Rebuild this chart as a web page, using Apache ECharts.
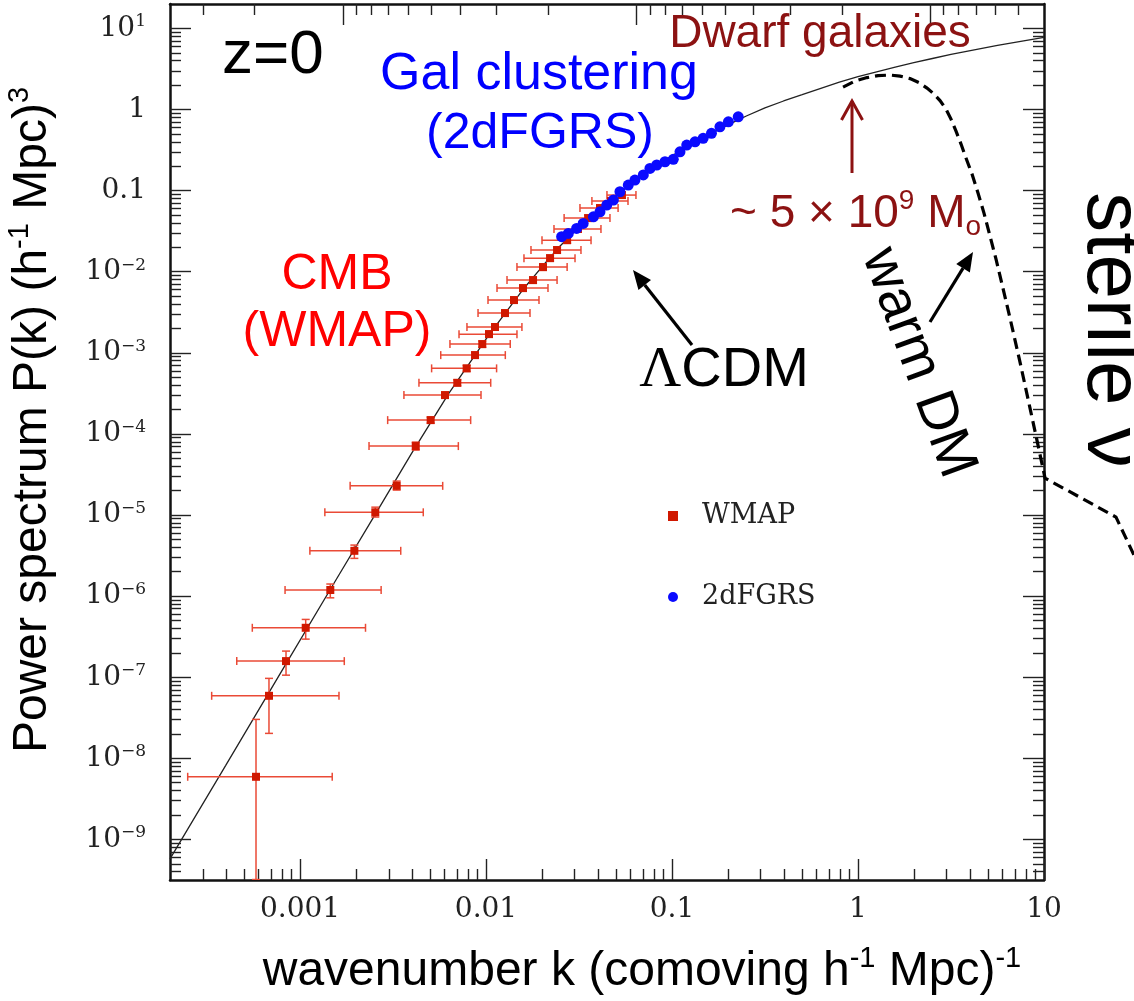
<!DOCTYPE html>
<html>
<head>
<meta charset="utf-8">
<script src="https://cdn.jsdelivr.net/npm/echarts@6/dist/echarts.min.js"></script>
<style>
html,body{margin:0;padding:0;background:#fff;}
#chart{width:1134px;height:1001px;}
</style>
</head>
<body>
<div id="chart"></div>
<script>
// ---------- data (k in h/Mpc, P in (Mpc/h)^3) ----------
// LambdaCDM model curve
const lcdmK = [2e-4, 3.98e-4, 7.94e-4, 1.58e-3, 2.51e-3, 3.98e-3, 6.31e-3, 0.01, 0.0126, 0.0158, 0.02, 0.0251, 0.0316, 0.0398, 0.0501, 0.0631, 0.0794, 0.1, 0.126, 0.158, 0.2, 0.251, 0.316, 0.398, 0.501, 0.631, 0.794, 1.0, 1.259, 1.585, 1.995, 2.512, 3.162, 4.217, 5.623, 7.499, 10];
const lcdmP = [5.75e-10, 8.13e-9, 1.17e-7, 1.66e-6, 9.77e-6, 5.75e-5, 3.16e-4, 1.48e-3, 3.02e-3, 6.03e-3, 1.15e-2, 2.09e-2, 3.55e-2, 5.62e-2, 8.71e-2, 0.129, 0.191, 0.269, 0.372, 0.49, 0.646, 0.832, 1.05, 1.274, 1.524, 1.828, 2.178, 2.541, 2.917, 3.327, 3.776, 4.256, 4.786, 5.433, 6.166, 6.918, 7.762];

// warm DM (sterile neutrino) sketch curve (runs past the right edge of the frame)
const wdmK = [0.831, 0.9636, 1.118, 1.281, 1.486, 1.682, 1.904, 2.128, 2.350, 2.563, 2.760, 2.972, 3.162, 3.365, 3.580, 3.807, 4.102, 4.418, 4.757, 5.126, 5.521, 5.945, 6.565, 7.430, 8.410, 9.284, 10.13, 24.38, 30.47];
const wdmP = [1.891, 2.242, 2.476, 2.620, 2.658, 2.584, 2.407, 2.148, 1.838, 1.550, 1.289, 1.012, 0.762, 0.542, 0.375, 0.252, 0.160, 0.0932, 0.0528, 0.0275, 0.0143, 7.04e-3, 2.68e-3, 7.69e-4, 2.08e-4, 7.28e-5, 2.85e-5, 9.43e-6, 3.20e-6];

// WMAP points with error bars
const wmapK   = [5.80e-4, 6.81e-4, 8.41e-4, 1.073e-3, 1.455e-3, 1.96e-3, 2.54e-3, 3.31e-3, 4.19e-3, 5.04e-3, 6.02e-3, 7.01e-3, 7.87e-3, 8.73e-3, 9.55e-3, 1.038e-2, 1.118e-2, 1.265e-2, 1.414e-2, 1.581e-2, 1.79e-2, 2.025e-2, 2.21e-2, 2.41e-2, 2.73e-2, 3.12e-2, 3.54e-2, 4.10e-2, 4.70e-2, 5.38e-2];
const wmapP   = [5.92e-9, 5.90e-8, 1.58e-7, 4.07e-7, 1.19e-6, 3.62e-6, 1.08e-5, 2.29e-5, 7.08e-5, 1.48e-4, 3.01e-4, 4.27e-4, 6.43e-4, 9.37e-4, 1.28e-3, 1.70e-3, 2.08e-3, 3.09e-3, 4.47e-3, 6.28e-3, 7.88e-3, 1.14e-2, 1.47e-2, 1.85e-2, 2.45e-2, 3.36e-2, 4.58e-2, 6.09e-2, 7.43e-2, 8.81e-2];
const wmapKLo = [2.49e-4, 3.35e-4, 4.57e-4, 5.54e-4, 8.31e-4, 1.13e-3, 1.36e-3, 1.86e-3, 2.35e-3, 2.96e-3, 3.62e-3, 4.36e-3, 5.10e-3, 5.71e-3, 6.40e-3, 7.16e-3, 7.90e-3, 9.06e-3, 1.025e-2, 1.146e-2, 1.297e-2, 1.467e-2, 1.60e-2, 1.745e-2, 2.00e-2, 2.32e-2, 2.63e-2, 3.20e-2, 3.71e-2, 4.47e-2];
const wmapKHi = [1.49e-3, 1.62e-3, 1.73e-3, 2.25e-3, 2.73e-3, 3.48e-3, 4.60e-3, 5.85e-3, 7.10e-3, 8.27e-3, 9.40e-3, 1.06e-2, 1.14e-2, 1.27e-2, 1.35e-2, 1.467e-2, 1.56e-2, 1.724e-2, 1.927e-2, 2.154e-2, 2.41e-2, 2.73e-2, 3.01e-2, 3.24e-2, 3.67e-2, 4.15e-2, 4.64e-2, 5.13e-2, 5.80e-2, 6.40e-2];
const wmapPLo = [3.2e-10, 2.03e-8, 1.06e-7, 2.95e-7, 9.53e-7, 2.92e-6, 9.44e-6, 2.03e-5, 6.32e-5, 1.36e-4, 2.77e-4, 3.92e-4, 5.9e-4, 8.6e-4, 1.17e-3, 1.56e-3, 1.90e-3, 2.83e-3, 4.10e-3, 5.75e-3, 7.22e-3, 1.04e-2, 1.35e-2, 1.70e-2, 2.24e-2, 3.07e-2, 4.19e-2, 5.57e-2, 6.80e-2, 8.06e-2];
const wmapPHi = [3.02e-8, 9.68e-8, 2.10e-7, 5.16e-7, 1.41e-6, 4.26e-6, 1.25e-5, 2.62e-5, 7.93e-5, 1.61e-4, 3.28e-4, 4.65e-4, 7.0e-4, 1.02e-3, 1.40e-3, 1.86e-3, 2.27e-3, 3.38e-3, 4.88e-3, 6.86e-3, 8.60e-3, 1.25e-2, 1.60e-2, 2.02e-2, 2.68e-2, 3.67e-2, 5.00e-2, 6.65e-2, 8.12e-2, 9.62e-2];

// 2dFGRS galaxy clustering points
const galK = [2.55e-2, 2.77e-2, 3.07e-2, 3.33e-2, 3.78e-2, 4.10e-2, 4.46e-2, 4.84e-2, 5.25e-2, 5.82e-2, 6.32e-2, 7.01e-2, 7.61e-2, 8.28e-2, 9.17e-2, 0.1016, 0.1104, 0.120, 0.133, 0.147, 0.163, 0.181, 0.201, 0.227];
const galP = [2.70e-2, 2.97e-2, 3.42e-2, 3.94e-2, 4.75e-2, 5.48e-2, 6.64e-2, 7.64e-2, 9.68e-2, 0.117, 0.135, 0.156, 0.188, 0.207, 0.227, 0.243, 0.301, 0.364, 0.400, 0.441, 0.508, 0.612, 0.706, 0.813];

// axes
const xRange = [2e-4, 10];
const yRange = [3.16e-10, 20];
const topRange = [0.41, 388];           // unlabeled top scale (reversed)
const xMajor = [0.001, 0.01, 0.1, 1, 10];
const xMajorLabels = ['0.001', '0.01', '0.1', '1', '10'];
const yMajor = [1e-9, 1e-8, 1e-7, 1e-6, 1e-5, 1e-4, 1e-3, 1e-2, 0.1, 1, 10];
const yMajorLabels = ['10^\u22129', '10^\u22128', '10^\u22127', '10^\u22126', '10^\u22125', '10^\u22124', '10^\u22123', '10^\u22122', '0.1', '1', '10^1'];
const topMajor = [1, 10, 100];
const minorMultipliers = [2, 3, 4, 5, 6, 7, 8, 9];

// ---------- helpers ----------
const L = Math.log10;
const sans = '"Liberation Sans", Arial, sans-serif';
const serif = '"DejaVu Serif", serif';
function minorTicks(range) {
  const lo = L(range[0]), hi = L(range[1]), out = [];
  for (let e = Math.floor(lo); e <= Math.ceil(hi); e++) {
    for (const m of minorMultipliers) {
      const v = e + L(m);
      if (v > lo + 1e-9 && v < hi - 1e-9) out.push(v);
    }
  }
  return out;
}
function nearest(arr, v) {
  let bi = 0, bd = Infinity;
  arr.forEach((a, i) => { const d = Math.abs(L(a) - v); if (d < bd) { bd = d; bi = i; } });
  return bi;
}
const tickStyle = {color: '#222', width: 1.4};
const lineStyleAx = {color: '#111', width: 2.5};
function axisBase(range, position, extra) {
  return Object.assign({
    type: 'value', min: L(range[0]), max: L(range[1]), position: position,
    splitLine: {show: false}, axisLabel: {show: false},
    axisLine: {show: false, onZero: false}, axisTick: {show: false},
    axisPointer: {show: false}, silent: true
  }, extra);
}
const majorTick = vals => ({show: true, inside: true, length: 21, customValues: vals, lineStyle: tickStyle});
const minorTick = vals => ({show: true, inside: true, length: 11, customValues: vals, lineStyle: tickStyle});
const axisLineOn = {show: true, onZero: false, lineStyle: lineStyleAx};

const xAxes = [
  axisBase(xRange, 'bottom', {
    axisLine: axisLineOn, axisTick: majorTick(xMajor.map(L)),
    axisLabel: {show: true, customValues: xMajor.map(L), margin: 16,
      fontFamily: serif, fontSize: 28, color: '#222',
      formatter: v => xMajorLabels[nearest(xMajor, v)]}
  }),
  axisBase(xRange, 'bottom', {axisTick: minorTick(minorTicks(xRange))}),
  axisBase(topRange, 'top', {inverse: true, axisLine: axisLineOn, axisTick: majorTick(topMajor.map(L))}),
  axisBase(topRange, 'top', {inverse: true, axisTick: minorTick(minorTicks(topRange))})
];
const yAxes = [
  axisBase(yRange, 'left', {
    axisLine: axisLineOn, axisTick: majorTick(yMajor.map(L)),
    axisLabel: {show: true, customValues: yMajor.map(L), margin: 24,
      formatter: v => {
        const s = yMajorLabels[nearest(yMajor, v)];
        const parts = s.split('^');
        return parts.length > 1 ? '{m|' + parts[0] + '}{s|' + parts[1] + '}' : '{m|' + parts[0] + '}';
      },
      rich: {
        m: {fontFamily: serif, fontSize: 28, lineHeight: 30, color: '#222'},
        s: {fontFamily: serif, fontSize: 17, lineHeight: 20, verticalAlign: 'top', color: '#222'}
      }}
  }),
  axisBase(yRange, 'left', {axisTick: minorTick(minorTicks(yRange))}),
  axisBase(yRange, 'right', {axisLine: axisLineOn, axisTick: majorTick(yMajor.map(L))}),
  axisBase(yRange, 'right', {axisTick: minorTick(minorTicks(yRange))})
];

// ---------- annotations ----------
const darkRed = '#8c1212';
function text(str, x, y, size, color, extra) {
  const el = {type: 'text', x: x, y: y, silent: true, z: 50,
    style: {text: str, fontFamily: sans, fontSize: size, fill: color, align: 'center', verticalAlign: 'middle'}};
  if (extra) {
    if (extra.style) Object.assign(el.style, extra.style);
    if (extra.rotation !== undefined) el.rotation = extra.rotation;
  }
  return el;
}
function arrow(x1, y1, x2, y2, color, width, headLen, headHalf, open) {
  const a = Math.atan2(y2 - y1, x2 - x1);
  const bx = x2 - headLen * Math.cos(a), by = y2 - headLen * Math.sin(a);
  const px = -Math.sin(a), py = Math.cos(a);
  const p1 = [bx + headHalf * px, by + headHalf * py];
  const p2 = [bx - headHalf * px, by - headHalf * py];
  const children = [];
  if (open) {
    children.push({type: 'line', shape: {x1: x1, y1: y1, x2: x2, y2: y2}, style: {stroke: color, lineWidth: width}});
    children.push({type: 'polyline', shape: {points: [p1, [x2, y2], p2]}, style: {stroke: color, lineWidth: width, fill: null}});
  } else {
    children.push({type: 'line', shape: {x1: x1, y1: y1, x2: bx, y2: by}, style: {stroke: color, lineWidth: width}});
    children.push({type: 'polygon', shape: {points: [p1, [x2, y2], p2]}, style: {fill: color}});
  }
  return {type: 'group', silent: true, z: 50, children: children};
}
const supRich = (size, lh, fam, color) => ({fontFamily: fam, fontSize: size, lineHeight: lh, verticalAlign: 'top', fill: color, color: color});

const graphics = [
  text('z=0', 222, 56, 62, '#000', {style: {align: 'left'}}),
  text('Gal clustering', 539, 75, 52, '#0000ff'),
  text('(2dFGRS)', 540, 134, 50, '#0000ff'),
  text('CMB', 337, 275, 50, '#ff0000'),
  text('(WMAP)', 337, 332, 50, '#ff0000'),
  text('Dwarf galaxies', 820, 34, 46, darkRed),
  text('{m|~ 5 \u00d7 10}{sup|9}{m| M}{sub|o}', 730, 214, 46, darkRed, {style: {align: 'left',
    rich: {
      m: {fontFamily: sans, fontSize: 46, lineHeight: 54, fill: darkRed},
      sup: supRich(28, 40, sans, darkRed),
      sub: {fontFamily: sans, fontSize: 28, lineHeight: 22, verticalAlign: 'bottom', fill: darkRed}
    }}}),
  arrow(852, 173, 852, 101, darkRed, 3, 19, 10.5, true),
  text('{g|\u039b}{m|CDM}', 724, 371, 56, '#000', {style: {rich: {
      g: {fontFamily: '"Liberation Serif", serif', fontSize: 58, lineHeight: 64, fill: '#000'},
      m: {fontFamily: sans, fontSize: 56, lineHeight: 64, fill: '#000'}
    }}}),
  arrow(692, 345, 633, 270, '#000', 3.2, 19, 8, false),
  text('warm DM', 918, 363, 56, '#000', {rotation: -70 * Math.PI / 180}),
  arrow(930, 322, 973, 252, '#000', 3.2, 19, 8, false),
  text('sterile \u03bd', 1110, 330, 80, '#000', {rotation: -Math.PI / 2}),
  text('{m|Power spectrum P(k) (h}{sup|-1}{m| Mpc)}{sup|3}', 33, 420, 48, '#000', {rotation: Math.PI / 2, style: {rich: {
      m: {fontFamily: sans, fontSize: 48, lineHeight: 56, fill: '#000'},
      sup: supRich(29, 30, sans, '#000')
    }}}),
  text('{m|wavenumber k (comoving h}{sup|-1}{m| Mpc)}{sup|-1}', 642, 972, 48, '#000', {style: {rich: {
      m: {fontFamily: sans, fontSize: 48, lineHeight: 56, fill: '#000'},
      sup: supRich(29, 30, sans, '#000')
    }}})
];

// ---------- chart ----------
const chart = echarts.init(document.getElementById('chart'), null, {renderer: 'canvas'});
const errColor = '#ea4a36';
const wdmData = wdmK.map((k, i) => [L(k), L(wdmP[i])]);
chart.setOption({
  animation: false,
  backgroundColor: '#ffffff',
  grid: {left: 170, right: 90, top: 4, bottom: 121, containLabel: false, outerBoundsMode: 'none'},
  xAxis: xAxes,
  yAxis: yAxes,
  legend: {
    orient: 'vertical', left: 668, top: 501, padding: 0, itemGap: 51,
    itemWidth: 10, itemHeight: 10, selectedMode: false,
    data: [{name: 'WMAP', icon: 'rect'}, {name: '2dFGRS', icon: 'circle'}],
    textStyle: {fontFamily: serif, fontSize: 27, color: '#222', lineHeight: 30, padding: [0, 0, 0, 19]}
  },
  graphic: graphics,
  series: [
    {
      type: 'line', name: 'ΛCDM', xAxisIndex: 0, yAxisIndex: 0, z: 2, silent: true,
      data: lcdmK.map((k, i) => [L(k), L(lcdmP[i])]),
      symbol: 'none', showSymbol: false, smooth: false,
      lineStyle: {color: '#222', width: 1.3}
    },
    {
      // warm DM curve: drawn as one dashed polyline through the axis scales; not clipped
      type: 'custom', name: 'warm DM', xAxisIndex: 0, yAxisIndex: 0, z: 3, silent: true, clip: false,
      data: [wdmData[0]],
      encode: {x: 0, y: 1},
      renderItem: (params, api) => {
        const pts = wdmData.map(d => api.coord(d));
        return {type: 'polyline', shape: {points: pts},
          style: {stroke: '#000', lineWidth: 3.2, lineDash: [11, 6], fill: null}};
      }
    },
    {
      type: 'custom', name: 'WMAP errors', xAxisIndex: 0, yAxisIndex: 0, z: 4, silent: true, clip: true,
      data: wmapK.map((k, i) => [L(k), L(wmapP[i]), L(wmapKLo[i]), L(wmapKHi[i]), L(wmapPLo[i]), L(wmapPHi[i])]),
      encode: {x: 0, y: 1},
      renderItem: (params, api) => {
        const c = api.coord([api.value(0), api.value(1)]);
        const l = api.coord([api.value(2), api.value(1)]);
        const r = api.coord([api.value(3), api.value(1)]);
        const lo = api.coord([api.value(0), api.value(4)]);
        const hi = api.coord([api.value(0), api.value(5)]);
        const cap = 4;
        const st = {stroke: errColor, lineWidth: 1.5, fill: null};
        const seg = (x1, y1, x2, y2) => ({type: 'line', shape: {x1: x1, y1: y1, x2: x2, y2: y2}, style: st});
        return {type: 'group', children: [
          seg(l[0], c[1], r[0], c[1]),
          seg(l[0], c[1] - cap, l[0], c[1] + cap),
          seg(r[0], c[1] - cap, r[0], c[1] + cap),
          seg(c[0], lo[1], c[0], hi[1]),
          seg(c[0] - cap, lo[1], c[0] + cap, lo[1]),
          seg(c[0] - cap, hi[1], c[0] + cap, hi[1])
        ]};
      }
    },
    {
      type: 'scatter', name: 'WMAP', xAxisIndex: 0, yAxisIndex: 0, z: 5, silent: true,
      symbol: 'rect', symbolSize: 8, itemStyle: {color: '#d01800', opacity: 1},
      data: wmapK.map((k, i) => [L(k), L(wmapP[i])])
    },
    {
      type: 'scatter', name: '2dFGRS', xAxisIndex: 0, yAxisIndex: 0, z: 6, silent: true,
      symbol: 'circle', symbolSize: 11, itemStyle: {color: '#0a0aff', opacity: 1},
      data: galK.map((k, i) => [L(k), L(galP[i])])
    }
  ]
});
</script>
</body>
</html>
